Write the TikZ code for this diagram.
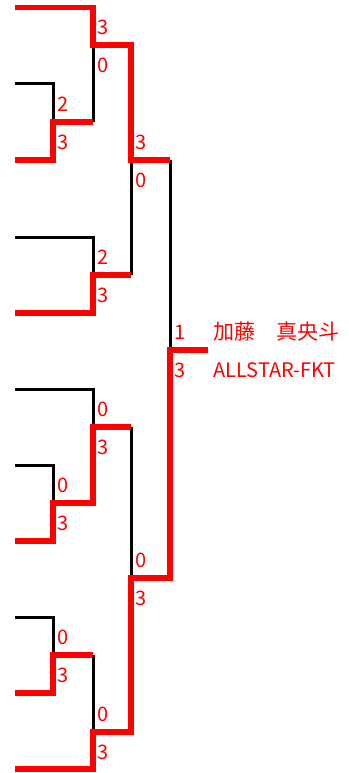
\documentclass[tikz,border=0pt]{standalone}
\usepackage{fontspec}
\newfontfamily\jpfont{Noto Sans CJK JP}

\tikzset{
    win/.style={draw=red, line width=5.3pt},
    lose/.style={draw=black, line width=3pt},
    score/.style={text=red, font=\jpfont\fontsize{20}{24}\selectfont, anchor=west, inner sep=0pt}
}

\begin{document}
\begin{tikzpicture}[x=1pt, y=-1pt]
\useasboundingbox (0,0) rectangle (348,773);

% Beaten entries
\draw[lose] (15,84) -- (53,84) -- (53,122);
\draw[lose] (93,45) -- (93,122);
\draw[lose] (15,237) -- (93,237) -- (93,275);
\draw[lose] (131,160) -- (131,275);
\draw[lose] (170,160) -- (170,350);
\draw[lose] (15,389) -- (93,389) -- (93,427);
\draw[lose] (15,465) -- (53,465) -- (53,503);
\draw[lose] (131,427) -- (131,578);
\draw[lose] (15,617) -- (53,617) -- (53,655);
\draw[lose] (93,655) -- (93,732);

% Winning runs
\draw[win] (15,7.5) -- (93,7.5) -- (93,45) -- (131,45) -- (131,160) -- (170,160);
\draw[win] (15,160) -- (53,160) -- (53,122) -- (93,122);
\draw[win] (15,313) -- (93,313) -- (93,275) -- (131,275);
\draw[win] (15,541) -- (53,541) -- (53,503) -- (93,503) -- (93,427) -- (131,427);
\draw[win] (15,693) -- (53,693) -- (53,655) -- (93,655);
\draw[win] (15,769) -- (93,769) -- (93,732) -- (131,732) -- (131,578)
    -- (170,578) -- (170,350) -- (208,350);

% Scores
\foreach \x/\y/\a/\b in {93/45/3/0, 53/122/2/3, 131/160/3/0, 93/275/2/3,
    170/350/1/3, 93/427/0/3, 53/503/0/3, 131/578/0/3, 53/655/0/3, 93/732/0/3} {
    \node[score] (hi-\y) at (\x+4, \y-18) {\a};
    \node[score] (lo-\y) at (\x+4, \y+20) {\b};
}

% Champion
\node[score, font=\jpfont\fontsize{21}{25}\selectfont] (name) at (213,332) {加藤　真央斗};
\node[score, font=\jpfont\fontsize{20}{24}\selectfont] (team) at (213,370) {ALLSTAR-FKT};

\end{tikzpicture}
\end{document}
